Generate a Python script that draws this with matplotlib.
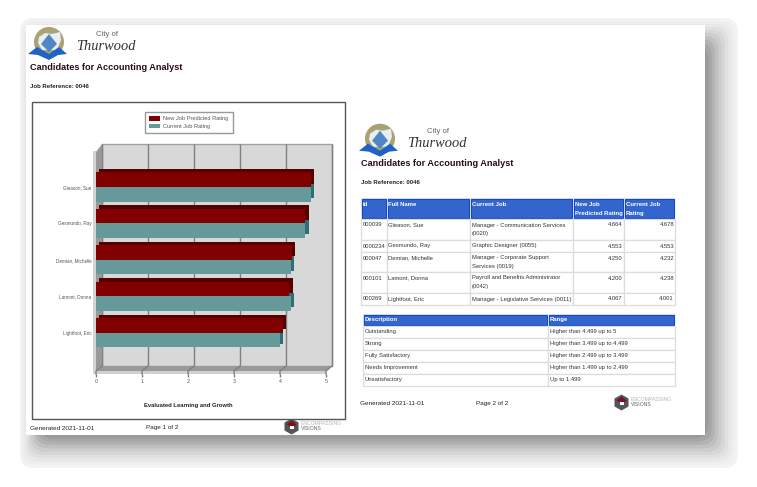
import matplotlib
matplotlib.use("Agg")
import matplotlib.pyplot as plt
from matplotlib.patches import Rectangle, Polygon, Circle, FancyBboxPatch
from matplotlib.transforms import ScaledTranslation

plt.rcParams['font.family'] = ['Liberation Sans', 'DejaVu Sans']

# chart values
names = ["Gleason, Sue", "Gesmundo, Ray", "Demian, Michelle", "Lamont, Donna", "Lightfoot, Eric"]
new_job = [4.664, 4.553, 4.250, 4.200, 4.067]
current_job = [4.678, 4.553, 4.232, 4.238, 4.001]
x_ticks = [0, 1, 2, 3, 4, 5]

# tables
ids = ["000039", "0000234", "000047", "000101", "000269"]
jobs = ["Manager - Communication Services\n(0020)", "Graphic Designer (0055)",
        "Manager - Corporate Support\nServices (0019)", "Payroll and Benefits Administrator\n(0042)",
        "Manager - Legislative Services (0011)"]
new_txt = ["4.664", "4.553", "4.250", "4.200", "4.067"]
cur_txt = ["4.678", "4.553", "4.232", "4.238", "4.001"]
headers = ["Id", "Full Name", "Current Job", "New Job\nPredicted Rating", "Current Job\nRating"]
descriptions = ["Outstanding", "Strong", "Fully Satisfactory", "Needs Improvement", "Unsatisfactory"]
ranges = ["Higher than 4.499 up to 5", "Higher than 3.499 up to 4.499", "Higher than 2.499 up to 3.499",
          "Higher than 1.499 up to 2.499", "Up to 1.499"]

W, H = 757, 487
fig = plt.figure(figsize=(W / 100, H / 100), dpi=100)

# page layer, works in pixels of the picture
page = fig.add_axes([0, 0, 1, 1], zorder=0)
page.set_xlim(0, W)
page.set_ylim(H, 0)
page.axis("off")

# soft stepped shadow behind the sheet
shadow = ["#f3f3f3", "#eeeeee", "#e8e8e8", "#e0e0e0", "#d6d6d6", "#cccccc", "#c0c0c0", "#b2b2b2", "#a6a6a6", "#9a9a9a"]
for i, c in enumerate(shadow):
    x0, y0 = 20 + i * 2.2, 18 + i * 3.0
    x1, y1 = 738 - i * 3.3, 468 - i * 3.3
    page.add_patch(FancyBboxPatch((x0 + 12, y0 + 12), x1 - x0 - 24, y1 - y0 - 24,
                                  boxstyle="round,pad=12,rounding_size=14", fc=c, ec="none"))
page.add_patch(Rectangle((26, 25), 679, 410, fc="white", ec="none"))


def txt(x, y, s, size=4.2, color="#333333", weight="normal", ha="left", **kw):
    page.text(x, y, s, fontsize=size, color=color, fontweight=weight, ha=ha, va="center", **kw)


def header(dx, dy):
    # city logo
    page.add_patch(Circle((49 + dx, 42 + dy), 15, fc="#a8a274", ec="none"))
    page.add_patch(Polygon([(39 + dx, 37 + dy), (45 + dx, 33 + dy), (52 + dx, 34 + dy), (60 + dx, 32 + dy),
                            (61 + dx, 40 + dy), (57 + dx, 50 + dy), (42 + dx, 50 + dy), (38 + dx, 43 + dy)],
                           fc="#e8eef2", ec="none"))
    page.add_patch(Polygon([(49 + dx, 34 + dy), (57 + dx, 44 + dy), (49 + dx, 52 + dy), (41 + dx, 44 + dy)],
                           fc="#4f86c6", ec="none"))
    page.add_patch(Polygon([(28 + dx, 54 + dy), (37 + dx, 47 + dy), (49 + dx, 54 + dy), (59 + dx, 47 + dy),
                            (67 + dx, 54 + dy), (58 + dx, 55 + dy), (49 + dx, 60 + dy), (38 + dx, 55 + dy)],
                           fc="#1f63c4", ec="none"))
    txt(107 + dx, 35 + dy, "City of", size=5.6, color="#666666", ha="center")
    txt(105.5 + dx, 47 + dy, "Thurwood", size=10.4, color="#333333", ha="center",
        family="Liberation Serif", style="italic")
    txt(30 + dx, 67 + dy, "Candidates for Accounting Analyst", size=6.6, color="#2a0d16", weight="bold")
    txt(30 + dx, 86 + dy, "Job Reference: 0046", size=4.3, color="#222222", weight="bold")


def footer(x, y, label, lx, ly):
    txt(x, y, "Generated 2021-11-01", size=4.6, color="#222222")
    txt(x + 116, y, label, size=4.6, color="#222222")
    # vendor logo
    hexa = [(0, -8), (7, -4), (7, 4), (0, 8), (-7, 4), (-7, -4)]
    page.add_patch(Polygon([(lx + a, ly + b) for a, b in hexa], fc="#555555", ec="none"))
    page.add_patch(Polygon([(lx, ly - 6), (lx + 5, ly - 2), (lx + 1, ly + 1), (lx - 5, ly - 2)], fc="#7a1020", ec="none"))
    page.add_patch(Rectangle((lx - 2, ly - 1), 4, 3, fc="white", ec="none"))
    txt(lx + 9.5, ly - 3, "ENCOMPASSING", size=3.7, color="#b5b5b5")
    txt(lx + 9.5, ly + 2.5, "VISIONS", size=3.7, color="#666666")


header(0, 0)
header(331, 96.7)
footer(30, 428, "Page 1 of 2", 291.5, 426.5)
footer(360, 403.7, "Page 2 of 2", 621.5, 402.5)

# chart frame
page.add_patch(Rectangle((32, 102), 313, 317, fc="white", ec="#555555", lw=1))
page.add_patch(Rectangle((92.5, 151), 3.5, 223, fc="#d4d4d4", ec="none"))

# first table
grid = "#dcdcdc"
cols = [361, 386.7, 470, 573, 624, 675]
rows = [219, 240, 252, 272, 293, 304.5]
for i, h in enumerate(headers):
    page.add_patch(Rectangle((cols[i], 198), cols[i + 1] - cols[i], 21, fc="#e0e4ee", ec="none"))
    page.add_patch(Rectangle((cols[i] + 1, 199), cols[i + 1] - cols[i] - 2, 19, fc="#3366cc", ec="#1446d0", lw=0.8))
    for j, line in enumerate(h.split("\n")):
        txt(cols[i] + 1.8, 205 + j * 8.7, line, size=4.3, color="white", weight="bold")
for r in range(5):
    for c in range(5):
        page.add_patch(Rectangle((cols[c], rows[r]), cols[c + 1] - cols[c], rows[r + 1] - rows[r],
                                 fc="white", ec=grid, lw=0.9))
    y = rows[r] + 6
    txt(cols[0] + 2, y, ids[r])
    txt(cols[1] + 1.5, y, names[r])
    for j, line in enumerate(jobs[r].split("\n")):
        txt(cols[2] + 1.5, y + j * 8.7, line)
    txt(cols[4] - 1.5, y, new_txt[r], ha="right")
    txt(cols[5] - 1, y, cur_txt[r], ha="right")

# rating scale table
cols2 = [363, 548, 675]
rows2 = [326, 338, 350, 362, 374, 385.5]
for i, h in enumerate(["Description", "Range"]):
    page.add_patch(Rectangle((cols2[i], 314), cols2[i + 1] - cols2[i], 12, fc="#e0e4ee", ec="none"))
    page.add_patch(Rectangle((cols2[i] + 1, 315), cols2[i + 1] - cols2[i] - 2, 10, fc="#3366cc", ec="#1446d0", lw=0.8))
    txt(cols2[i] + 2, 320, h, size=4.3, color="white", weight="bold")
for r in range(5):
    for c in range(2):
        page.add_patch(Rectangle((cols2[c], rows2[r]), cols2[c + 1] - cols2[c], rows2[r + 1] - rows2[r],
                                 fc="white", ec=grid, lw=0.9))
    txt(cols2[0] + 1.8, rows2[r] + 6, descriptions[r])
    txt(cols2[1] + 2, rows2[r] + 6, ranges[r])

# bar chart axes: front plane of the fake 3D box
left, right, top, bottom = 96, 326, 152, 374
ax = fig.add_axes([left / W, 1 - bottom / H, (right - left) / W, (bottom - top) / H], zorder=1)
ax.patch.set_alpha(0)
ax.set_xlim(0, 5)
ax.set_ylim((bottom - 187) / 36.4, (top - 187) / 36.4)
for s in ax.spines.values():
    s.set_visible(False)


def shifted(dx, dy):
    return ax.transData + ScaledTranslation(dx / fig.dpi, dy / fig.dpi, fig.dpi_scale_trans)


y0, y1 = ax.get_ylim()
back = shifted(6, 8)
dx_u = 6 / 46
dy_u = 8 / 36.4
band = 3 / 36.4

# box walls and floor
ax.add_patch(Rectangle((0, y1), 5, y0 - y1, fc="#d8d8d8", ec="#a0a0a0", lw=1, transform=back, clip_on=False))
ax.add_patch(Rectangle((0, y0 - band), 5, band, fc="#d0d0d0", ec="none", clip_on=False, zorder=1))
ax.add_patch(Polygon([(0, y0 - band), (5, y0 - band), (5 + dx_u, y0 - dy_u), (dx_u, y0 - dy_u)],
                     fc="#999999", ec="none", clip_on=False, zorder=1.5))
ax.add_patch(Polygon([(0, y0 - band), (dx_u, y0 - dy_u), (dx_u, y1 - dy_u), (0, y1)], fc="#999999", ec="none",
                     clip_on=False, zorder=1.5))
ax.vlines(x_ticks, y0, y1, color="#808080", lw=1, transform=back, clip_on=False, zorder=1.2)
for t in x_ticks:
    ax.plot([t, t, t + dx_u], [y0, y0 - band, y0 - dy_u], color="#808080", lw=1, clip_on=False, zorder=1.8)

# bars, the shifted copies give the 3D sides
h = 0.4
pos = list(range(len(names)))
red_y = [p - h / 2 for p in pos]
teal_y = [p + h / 2 for p in pos]
ax.barh(teal_y, current_job, h, color="#2f6f73", transform=shifted(3.3, 3.5), clip_on=False, zorder=2)
ax.barh(red_y, new_job, h, color="#560000", transform=shifted(3.3, 3.5), clip_on=False, zorder=2)
b2 = ax.barh(teal_y, current_job, h, color="#669999", zorder=3, label="Current Job Rating")
b1 = ax.barh(red_y, new_job, h, color="#800000", zorder=3, label="New Job Predicted Rating")

ax.set_xticks(x_ticks)
ax.set_yticks(pos)
ax.set_yticklabels(names)
ax.tick_params(axis="y", length=0, pad=3.2, labelsize=3.3, labelcolor="#555555")
ax.tick_params(axis="x", length=2.5, width=1, color="#808080", pad=1, labelsize=3.8, labelcolor="#555555")
ax.set_xlabel("Evaluated Learning and Growth", fontsize=4.2, fontweight="bold", color="#222222")
ax.xaxis.set_label_coords((188.7 - left) / (right - left), -(405 - bottom) / (bottom - top), transform=ax.transAxes)
ax.xaxis.label.set_va("center")

leg = ax.legend([b1, b2], ["New Job Predicted Rating", "Current Job Rating"], loc="center",
                bbox_to_anchor=(189 / W, 1 - 122.5 / H), bbox_transform=fig.transFigure,
                fontsize=4.1, fancybox=False, framealpha=1, edgecolor="#999999", labelcolor="#555555",
                handlelength=1.9, handleheight=0.8, handletextpad=0.55, labelspacing=0.42,
                borderpad=0.75, borderaxespad=0)
leg.get_frame().set_linewidth(1)

fig.savefig("out.png", dpi=100)
